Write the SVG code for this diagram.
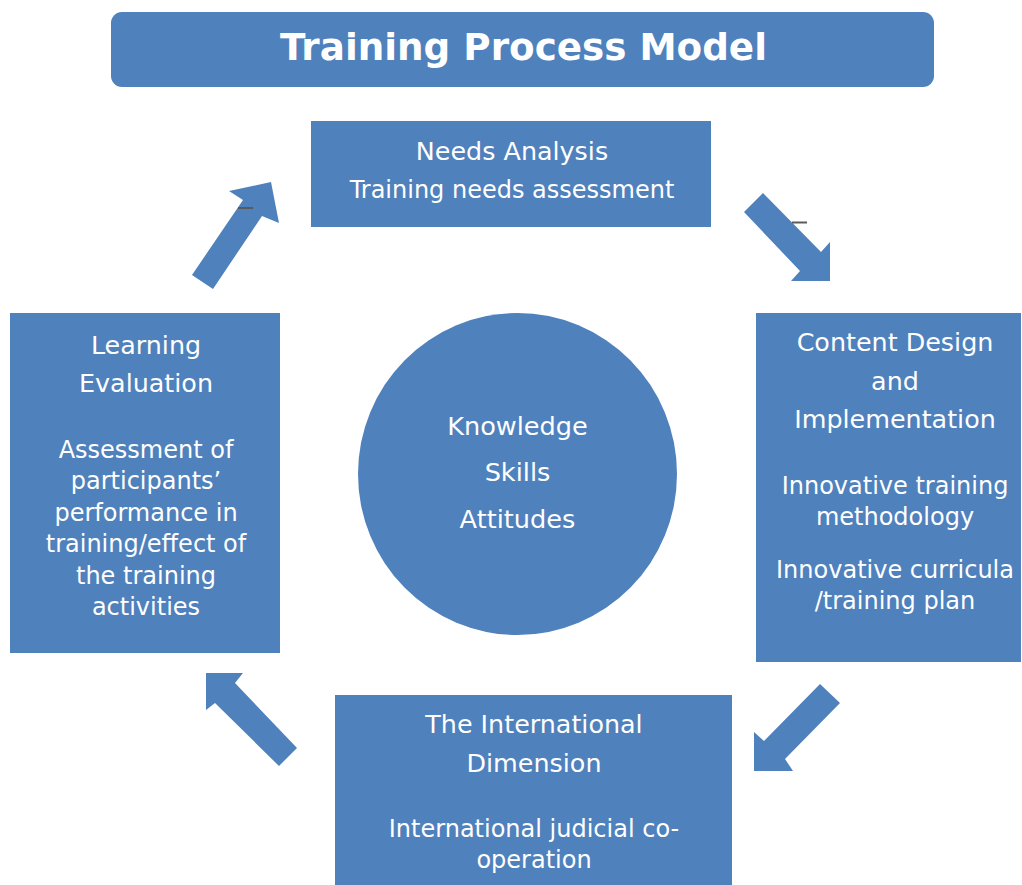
<svg xmlns="http://www.w3.org/2000/svg" width="1022" height="885" viewBox="0 0 1022 885">
<style>
.shape{fill:#4F81BD}
text{font-family:"DejaVu Sans","Liberation Sans",sans-serif;fill:#FFFFFF;text-anchor:middle}
.title{font-size:37.3px;font-weight:bold}
.h{font-size:25.4px}
.b{font-size:24px}
.c{font-size:25.6px}
.dash{stroke:#5A5A5A;stroke-width:2}
</style>
<rect width="1022" height="885" fill="#FFFFFF"/>
<g id="title">
<rect class="shape" x="111" y="12" width="823" height="75" rx="11"/>
<text class="title" x="523.5" y="60">Training Process Model</text>
</g>
<g id="needs-analysis">
<rect class="shape" x="311" y="121" width="400" height="106"/>
<text class="h" x="512" y="160">Needs Analysis</text>
<text class="b" x="512" y="198">Training needs assessment</text>
</g>
<g id="content-design">
<rect class="shape" x="756" y="313" width="265" height="349"/>
<text class="h" x="895" y="351">Content Design</text>
<text class="h" x="895" y="390">and</text>
<text class="h" x="895" y="428">Implementation</text>
<text class="b" x="895" y="494">Innovative training</text>
<text class="b" x="895" y="525">methodology</text>
<text class="b" x="895" y="578">Innovative curricula</text>
<text class="b" x="895" y="609">/training plan</text>
</g>
<g id="international-dimension">
<rect class="shape" x="335" y="695" width="397" height="190"/>
<text class="h" x="534" y="733">The International</text>
<text class="h" x="534" y="772">Dimension</text>
<text class="b" x="534" y="837">International judicial co-</text>
<text class="b" x="534" y="868">operation</text>
</g>
<g id="learning-evaluation">
<rect class="shape" x="10" y="313" width="270" height="340"/>
<text class="h" x="146" y="354">Learning</text>
<text class="h" x="146" y="392">Evaluation</text>
<text class="b" x="146" y="458">Assessment of</text>
<text class="b" x="146" y="489">participants’</text>
<text class="b" x="146" y="521">performance in</text>
<text class="b" x="146" y="552">training/effect of</text>
<text class="b" x="146" y="584">the training</text>
<text class="b" x="146" y="615">activities</text>
</g>
<g id="core">
<ellipse class="shape" cx="517.5" cy="474" rx="159.5" ry="161"/>
<text class="c" x="517.5" y="435">Knowledge</text>
<text class="c" x="517.5" y="481">Skills</text>
<text class="c" x="517.5" y="528">Attitudes</text>
</g>
<g id="connectors">
<polygon class="shape" points="192,275 243,200 229,191 271,182 279,223 262,216 213,289"/>
<polygon class="shape" points="763,193 821,252 830,242 830,281 791,281 800,271 744,212"/>
<polygon class="shape" points="820,684 840,703 785,759 793,771 754,771 754,732 764,741"/>
<polygon class="shape" points="297,748 235,683 243,673 206,673 206,710 215,703 279,766"/>
<line class="dash" x1="238" y1="208" x2="253" y2="208"/>
<line class="dash" x1="792" y1="222.5" x2="807" y2="222.5"/>
</g>
</svg>
